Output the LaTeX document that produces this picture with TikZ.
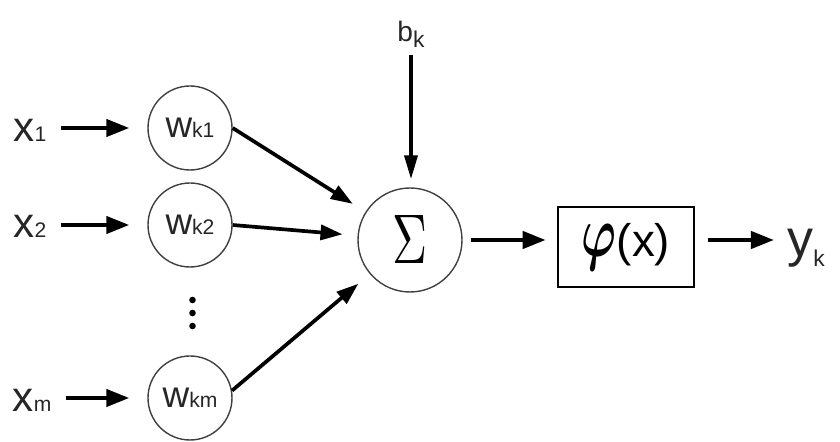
\documentclass[tikz,border=0pt]{standalone}
\usepackage{amsmath}
\usepackage{graphicx}
\usepackage[no-math]{fontspec}
\setmainfont{Liberation Sans}
\usepackage{tikz}
\usetikzlibrary{
    positioning,
    arrows.meta
}
\newcommand{\subtxt}[1]{{\fontsize{12}{14}\selectfont #1}}
\newcommand{\lowsub}[2]{\raisebox{-#1}{\fontsize{13}{15}\selectfont #2}}

\begin{document}
\begin{tikzpicture}[
      inlabel/.style={inner sep=0pt, text=black!85, font=\fontsize{24}{28}\selectfont},
      weight/.style={circle, draw=black!75, line width=0.8pt, minimum size=1.68cm, inner sep=0pt, text=black!85, font=\fontsize{21}{26}\selectfont},
      summer/.style={circle, draw=black!75, line width=0.8pt, minimum size=2.08cm, inner sep=0pt},
      actbox/.style={draw, line width=1.5pt, minimum width=2.72cm, minimum height=1.60cm, inner sep=0pt},
      arrow/.style={-{Triangle[length=0.46cm, width=0.34cm]}, line width=2.4pt},
      wline/.style={-{Triangle[length=0.44cm, width=0.30cm]}, line width=2.1pt, shorten >=0.3cm},
      biasarrow/.style={-{Triangle[length=0.48cm, width=0.26cm]}, line width=2.1pt}
    ]
    \useasboundingbox (0,0) rectangle (16.8,8.84);

    % inputs and weights
    \node[inlabel, anchor=base] (x1) at (0.60,6.00) {x\subtxt{1}};
    \node[inlabel, anchor=base] (x2) at (0.60,4.08) {x\subtxt{2}};
    \node[inlabel, anchor=base] (xm) at (0.64,0.60) {x\subtxt{m}};

    \node[weight] (w1) at (3.80,6.28) {w\subtxt{k1}};
    \node[weight] (w2) at (3.80,4.34) {w\subtxt{k2}};
    \node[weight] (wm) at (3.80,0.88) {w\subtxt{km}};

    \foreach \y in {2.84,2.58,2.32}
      \fill (3.85,\y) circle (0.066);

    % summation, bias, activation
    \node[summer] (sum) at (8.20,4.04) {\resizebox*{0.70cm}{0.96cm}{$\Sigma$}};
    \node[inner sep=0pt, anchor=base, text=black!85, font=\fontsize{16}{18}\selectfont] (bk) at (8.22,8.00) {b\lowsub{0.12cm}{k}};
    \node[actbox] (box) at (12.52,3.90) {\resizebox*{0.70cm}{0.92cm}{\boldmath$\varphi$}{\fontsize{26}{30}\selectfont(x)}};
    \node[inner sep=0pt, anchor=base, text=black!85, font=\fontsize{29.5}{32}\selectfont] (yk) at (16.12,3.70) {y\lowsub{0.2cm}{k}};

    \draw[arrow, shorten <=0.28cm, shorten >=0.36cm] (x1.east |- w1) -- (w1);
    \draw[arrow, shorten <=0.28cm, shorten >=0.36cm] (x2.east |- w2) -- (w2);
    \draw[arrow, shorten <=0.28cm, shorten >=0.36cm] (xm.east |- wm) -- (wm);

    \draw[wline] (w1.east) -- (sum);
    \draw[wline] (w2.east) -- (sum);
    \draw[wline] (wm.10) -- (sum);

    \draw[biasarrow, shorten <=0.14cm, shorten >=0.16cm] (bk.south) -- (bk.south |- sum.north);

    \draw[arrow, shorten <=0.16cm, shorten >=0.22cm] (sum) -- (sum -| box.west);
    \draw[arrow, shorten <=0.26cm, shorten >=0.26cm] (box.east |- sum) -- (sum -| yk.west);
  \end{tikzpicture}
\end{document}
